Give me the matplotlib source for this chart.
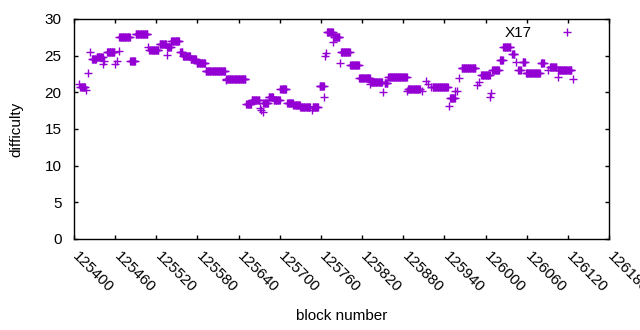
import numpy as np
import matplotlib
matplotlib.use('Agg')
import matplotlib.pyplot as plt
from matplotlib.transforms import ScaledTranslation

# difficulty held over block ranges (from, to inclusive); single blocks have from == to
blk_from = [125407, 125409, 125417, 125421, 125423, 125426, 125433, 125443, 125444, 125448,
            125460, 125462, 125465, 125466, 125482, 125490, 125508, 125510, 125525, 125535,
            125536, 125542, 125555, 125559, 125570, 125579, 125592, 125621, 125622, 125651,
            125659, 125671, 125672, 125675, 125676, 125684, 125691, 125701, 125711, 125712,
            125720, 125730, 125747, 125748, 125758, 125765, 125766, 125767, 125769, 125778,
            125779, 125788, 125789, 125803, 125816, 125832, 125833, 125851, 125853, 125858,
            125886, 125887, 125907, 125913, 125916, 125921, 125923, 125947, 125948, 125956,
            125958, 125962, 125965, 125988, 125990, 125994, 126007, 126008, 126010, 126021,
            126026, 126039, 126044, 126048, 126054, 126059, 126081, 126091, 126094, 126105,
            126106, 126128]
blk_to = [125407, 125416, 125417, 125421, 125423, 125432, 125442, 125443, 125444, 125459,
          125460, 125462, 125465, 125481, 125489, 125507, 125508, 125523, 125534, 125535,
          125541, 125553, 125558, 125569, 125578, 125591, 125620, 125621, 125650, 125658,
          125670, 125671, 125672, 125675, 125683, 125690, 125700, 125709, 125711, 125719,
          125729, 125744, 125747, 125756, 125764, 125765, 125766, 125767, 125777, 125778,
          125787, 125788, 125802, 125815, 125831, 125832, 125849, 125851, 125857, 125885,
          125886, 125904, 125907, 125913, 125916, 125921, 125945, 125947, 125955, 125956,
          125958, 125962, 125985, 125988, 125990, 126006, 126007, 126008, 126019, 126025,
          126036, 126042, 126044, 126051, 126057, 126079, 126085, 126091, 126103, 126105,
          126125, 126128]
difficulty = [21.2, 20.7, 20.3, 22.7, 25.5, 24.5, 24.8, 23.9, 24.3, 25.5,
              23.8, 24.3, 25.6, 27.5, 24.3, 27.9, 26.2, 25.8, 26.6, 25.1,
              26.2, 27.0, 25.5, 24.9, 24.5, 24.0, 22.9, 21.7, 21.8, 18.4,
              19.0, 17.8, 17.6, 17.3, 18.5, 19.4, 19.0, 20.5, 18.5, 18.6,
              18.3, 18.0, 17.6, 18.0, 20.8, 19.4, 24.9, 25.3, 28.2, 26.9,
              27.5, 24.0, 25.5, 23.7, 21.9, 21.2, 21.4, 20.0, 21.3, 22.1,
              20.2, 20.5, 20.2, 21.6, 21.1, 20.7, 20.7, 18.1, 19.2, 20.2,
              20.2, 21.9, 23.3, 21.0, 21.4, 22.4, 19.3, 19.9, 23.1, 24.4,
              26.2, 25.2, 24.2, 23.1, 24.1, 22.6, 24.0, 23.0, 23.4, 22.1,
              23.0, 21.8]

x_ticks = list(range(125400, 126181, 60))
y_ticks = [0, 5, 10, 15, 20, 25, 30]

blocks = []
values = []
for a, b, d in zip(blk_from, blk_to, difficulty):
    for n in range(a, b + 1):
        blocks.append(n)
        values.append(d)

plt.rcParams['font.family'] = ['Liberation Sans', 'DejaVu Sans']
fs = 11

fig = plt.figure(figsize=(6.4, 3.3), dpi=100)
ax = fig.add_axes([74 / 640, 1 - 239 / 330, 535 / 640, 220 / 330])

ax.plot(blocks, values, linestyle='none', marker='+', markersize=5.5,
        markeredgewidth=1.0, color='#9400d3', label='X17')

ax.set_xlim(125400, 126180)
ax.set_ylim(0, 30)
ax.set_xticks(x_ticks)
ax.set_yticks(y_ticks)
ax.set_xticklabels([str(t) for t in x_ticks], rotation=-45, ha='left', va='top',
                   rotation_mode='anchor')
ax.tick_params(direction='in', length=3, width=1, top=True, right=True,
               labelsize=fs)
ax.tick_params(axis='y', pad=9)
ax.tick_params(axis='x', pad=7)
shift = ScaledTranslation(0.06, 0, fig.dpi_scale_trans)
for lab in ax.get_xticklabels():
    lab.set_transform(lab.get_transform() + shift)
for s in ax.spines.values():
    s.set_linewidth(1)

ax.set_xlabel('block number', fontsize=fs)
ax.xaxis.set_label_coords(0.5, -0.32)
ax.set_ylabel('difficulty', fontsize=fs)
ax.yaxis.set_label_coords(-0.095, 0.5)

ax.legend(loc='upper right', bbox_to_anchor=(0.950, 0.967), frameon=False,
          markerfirst=False, borderaxespad=0, borderpad=0,
          handlelength=2.0, handletextpad=1.3, fontsize=fs)

fig.savefig('out.png', dpi=100)
